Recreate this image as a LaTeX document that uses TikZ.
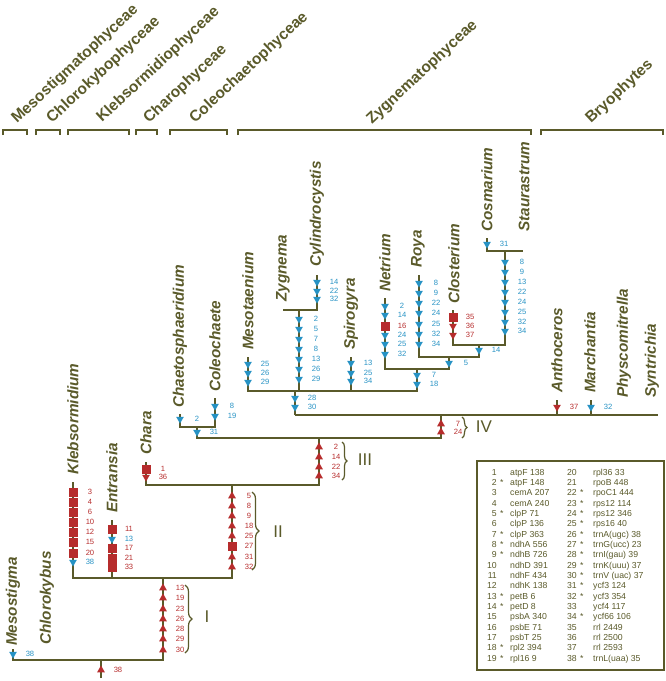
\documentclass[tikz,border=0pt]{standalone}
\usepackage{fontspec}
\setmainfont{Liberation Sans}
\usepackage{tikz}
\usetikzlibrary{shapes.geometric, decorations.pathreplacing}
\definecolor{Oliva}{RGB}{90,90,42}
\definecolor{AzulM}{RGB}{38,146,196}
\definecolor{RojoM}{RGB}{182,44,44}

\begin{document}
\begin{tikzpicture}[
    x=1pt, y=-1pt,
    rama/.style={draw=Oliva, line width=1.8pt},
    corchete/.style={draw=Oliva, line width=1.8pt},
    llave/.style={draw=Oliva, line width=1.2pt, decorate},
    taxon/.style={rotate=90, anchor=west, inner sep=0pt, text=Oliva, font=\fontsize{15.3}{18}\selectfont\bfseries\itshape},
    clado/.style={rotate=43, anchor=base west, inner sep=0pt, text=Oliva, font=\fontsize{15.5}{18}\selectfont\bfseries},
    romano/.style={text=Oliva, font=\fontsize{17}{20}\selectfont},
    numero/.style={inner sep=0pt, font=\fontsize{7.6}{9}\selectfont, anchor=east, xshift=17pt},
    tri/.style={regular polygon, regular polygon sides=3, minimum size=9pt, inner sep=0pt},
    bd/.style={tri, fill=AzulM, shape border rotate=180, label={[numero, text=AzulM]center:#1}},
    rd/.style={tri, fill=RojoM, shape border rotate=180, label={[numero, text=RojoM]center:#1}},
    ru/.style={tri, fill=RojoM, label={[numero, text=RojoM]center:#1}},
    rs/.style={fill=RojoM, minimum size=9pt, inner sep=0pt, label={[numero, text=RojoM]center:#1}},
    leyenda/.style={inner sep=0pt, text=Oliva, font=\fontsize{8.7}{10}\selectfont}
  ]
    \useasboundingbox (0,0) rectangle (666,681);

    % Clados (arriba)
    \foreach \x/\y/\t in {17/124/Mesostigmatophyceae, 52/124/Chlorokybophyceae,
        102/123/Klebsormidiophyceae, 149/124/Charophyceae, 195/124/Coleochaetophyceae,
        372/125/Zygnematophyceae, 591/124/Bryophytes}
      \node[clado] (c-\t) at (\x,\y) {\t};
    \foreach \a/\b in {3/27, 36/60, 68/129, 136/157, 170/227, 238/531, 541/663}
      \draw[corchete] (\a,135) -- (\a,130) -- (\b,130) -- (\b,135);

    % Taxones
    \foreach \x/\y/\t in {13/646/Mesostigma, 47/645/Chlorokybus, 73/475/Klebsormidium,
        112/513/Entransia, 146/455/Chara, 180/408/Chaetosphaeridium, 215/392/Coleochaete,
        248/350/Mesotaenium, 283/302/Zygnema, 317/267/Cylindrocystis, 351/350/Spirogyra,
        385/292/Netrium, 418/268/Roya, 454/304/Closterium, 487/232/Cosmarium,
        524/232/Staurastrum, 557/393/Anthoceros, 590/393/Marchantia,
        624/398/Physcomitrella, 652/398/Syntrichia}
      \node[taxon] (\t) at (\x,\y) {\t};

    % Puntas
    \coordinate (tMes) at (13,649);  \coordinate (tKle) at (73,482);
    \coordinate (tEnt) at (112,520); \coordinate (tCha) at (146,462);
    \coordinate (tChs) at (180,414); \coordinate (tCol) at (215,398);
    \coordinate (tMst) at (248,357); \coordinate (tZyg) at (283,310);
    \coordinate (tCyl) at (317,275); \coordinate (tSpi) at (351,357);
    \coordinate (tNet) at (385,298); \coordinate (tRoy) at (419,275);
    \coordinate (tClo) at (453,310); \coordinate (tCos) at (487,238);
    \coordinate (tSta) at (523,251); \coordinate (tAnt) at (557,400);
    \coordinate (tMar) at (591,400); \coordinate (tEnd) at (658,415);

    % Nodos internos
    \coordinate (raiz) at (101,678); \coordinate (n0) at (101,660);
    \coordinate (n1) at (163,660);   \coordinate (n2) at (163,578);
    \coordinate (n3) at (232,578);   \coordinate (n4) at (232,485);
    \coordinate (n5) at (319,485);   \coordinate (n6) at (319,438);
    \coordinate (n7) at (197,438);   \coordinate (n8) at (197,427);
    \coordinate (n9) at (441,438);   \coordinate (n10) at (441,415);
    \coordinate (n11) at (295,415);  \coordinate (n12) at (295,391);
    \coordinate (n13) at (299,391);  \coordinate (n14) at (299,310);
    \coordinate (n15) at (417,391);  \coordinate (n16) at (417,369);
    \coordinate (n17) at (449,369);  \coordinate (n18) at (449,357);
    \coordinate (n19) at (479,357);  \coordinate (n20) at (479,345);
    \coordinate (n21) at (505,345);  \coordinate (n22) at (505,251);

    % Ramas
    \draw[rama] (raiz) -- (n0);
    \draw[rama] (tMes) |- (n1) -- (n2);
    \draw[rama] (tKle) |- (n3) -- (n4);
    \draw[rama] (tEnt) -- (tEnt |- n2);
    \draw[rama] (tCha) |- (n5) -- (n6);
    \draw[rama] (n8) -- (n7) -- (n9) -- (n10);
    \draw[rama] (tChs) |- (n8) -| (tCol);
    \draw[rama] (n11) -- (tEnd);
    \draw[rama] (tAnt) -- (tAnt |- n10);
    \draw[rama] (tMar) -- (tMar |- n10);
    \draw[rama] (n11) -- (n12);
    \draw[rama] (tMst) |- (n15) -- (n16);
    \draw[rama] (n13) -- (n14);
    \draw[rama] (tZyg) -- (n14) -| (tCyl);
    \draw[rama] (tSpi) -- (tSpi |- n12);
    \draw[rama] (tNet) |- (n17) -- (n18);
    \draw[rama] (tRoy) |- (n19) -- (n20);
    \draw[rama] (tClo) |- (n21) -- (n22);
    \draw[rama] (tCos) |- (n22) -- (tSta);

    % Marcas
    \foreach \x/\t/\y/\n [count=\i] in {101/ru/670/38, 13/bd/654/38,
        163/ru/588/13, 163/ru/598/19, 163/ru/609/23, 163/ru/619/26, 163/ru/629/28, 163/ru/639/29, 163/ru/650/30,
        73/rs/492/3, 73/rs/502/4, 73/rs/512/6, 73/rs/522/10, 73/rs/532/12, 73/rs/542/15, 73/rs/553/20, 73/bd/562/38,
        112/rs/529/11, 112/bd/539/13, 112/rs/548/17, 112/rs/558/21, 112/rs/567/33,
        232/ru/496/5, 232/ru/506/8, 232/ru/516/9, 232/ru/526/18, 232/ru/536/25, 232/rs/546/27, 232/ru/557/31, 232/ru/567/32,
        146/rs/469/1, 146/rd/477/36,
        319/ru/447/2, 319/ru/457/14, 319/ru/467/22, 319/ru/476/34,
        197/bd/432/31, 180/bd/419/2, 215/bd/406/8, 215/bd/416/19,
        441/ru/424/7, 441/ru/432/24, 557/rd/407/37, 591/bd/407/32,
        295/bd/398/28, 295/bd/407/30,
        248/bd/364/25, 248/bd/373/26, 248/bd/382/29,
        299/bd/319/2, 299/bd/329/5, 299/bd/339/7, 299/bd/349/8, 299/bd/359/13, 299/bd/369/26, 299/bd/379/29,
        317/bd/282/14, 317/bd/291/22, 317/bd/299/32,
        351/bd/363/13, 351/bd/373/25, 351/bd/381/34,
        417/bd/375/7, 417/bd/384/18,
        385/bd/306/2, 385/bd/315/14, 385/rs/326/16, 385/bd/335/24, 385/bd/344/25, 385/bd/354/32,
        449/bd/363/5,
        419/bd/283/8, 419/bd/293/9, 419/bd/303/22, 419/bd/313/24, 419/bd/324/25, 419/bd/334/32, 419/bd/344/34,
        479/bd/350/14,
        453/rs/317/35, 453/rd/326/36, 453/rd/335/37,
        505/bd/262/8, 505/bd/272/9, 505/bd/282/13, 505/bd/292/22, 505/bd/302/24, 505/bd/312/25, 505/bd/322/32, 505/bd/331/34,
        487/bd/244/31}
      \node[\t=\n] (m\i) at (\x,\y) {};

    % Llaves
    \draw[llave, decoration={brace, amplitude=7pt}] (185,585) -- (185,653);
    \draw[llave, decoration={brace, amplitude=7pt}] (252,492) -- (252,570);
    \draw[llave, decoration={brace, amplitude=5pt}] (342,442) -- (342,480);
    \draw[llave, decoration={brace, amplitude=5pt}] (462,417) -- (462,438);
    \node[romano] (gI) at (207,617) {I};
    \node[romano] (gII) at (278,532) {II};
    \node[romano] (gIII) at (365,460) {III};
    \node[romano] (gIV) at (484,427) {IV};

    % Leyenda
    \node[draw=Oliva, line width=1.5pt, minimum width=187pt, minimum height=209pt, anchor=north west] (caja) at (476,460) {};
    \foreach \n/\s/\g [count=\i] in {1//atpF 138, 2/*/atpF 148, 3//cemA 207, 4//cemA 240,
        5/*/clpP 71, 6//clpP 136, 7/*/clpP 363, 8/*/ndhA 556, 9/*/ndhB 726, 10//ndhD 391,
        11//ndhF 434, 12//ndhK 138, 13/*/petB 6, 14/*/petD 8, 15//psbA 340, 16//psbE 71,
        17//psbT 25, 18/*/rpl2 394, 19/*/rpl16 9} {
      \node[leyenda, anchor=base east] (a\i) at (497,{475.3+(\i-1)*10.33}) {\n};
      \node[leyenda, anchor=base west] at (500,{475.3+(\i-1)*10.33}) {\s};
      \node[leyenda, anchor=base west] (ga\i) at (510,{475.3+(\i-1)*10.33}) {\g};
    }
    \foreach \n/\s/\g [count=\i] in {20//rpl36 33, 21//rpoB 448, 22/*/rpoC1 444, 23/*/rps12 114,
        24/*/rps12 346, 25/*/rps16 40, 26/*/trnA(ugc) 38, 27/*/trnG(ucc) 23, 28/*/trnI(gau) 39,
        29/*/trnK(uuu) 37, 30/*/trnV (uac) 37, 31/*/ycf3 124, 32/*/ycf3 354, 33//ycf4 117,
        34/*/ycf66 106, 35//rrl 2449, 36//rrl 2500, 37//rrl 2593, 38/*/trnL(uaa) 35} {
      \node[leyenda, anchor=base east] (b\i) at (577,{475.3+(\i-1)*10.33}) {\n};
      \node[leyenda, anchor=base west] at (580,{475.3+(\i-1)*10.33}) {\s};
      \node[leyenda, anchor=base west] (gb\i) at (593,{475.3+(\i-1)*10.33}) {\g};
    }
  \end{tikzpicture}
\end{document}
